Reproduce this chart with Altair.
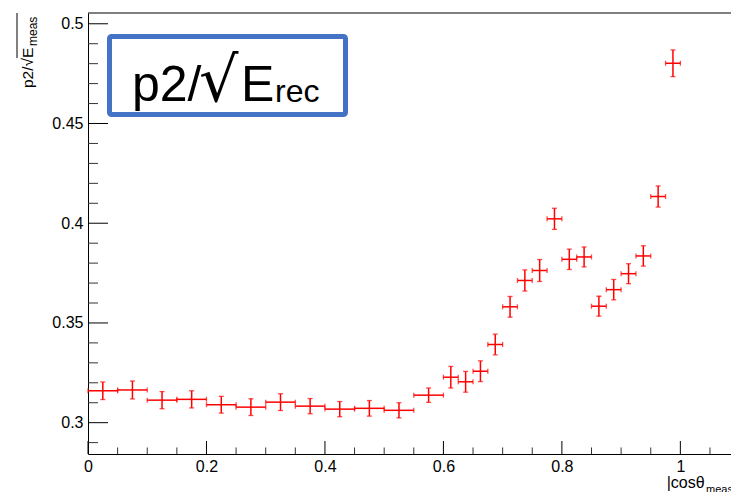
import altair as alt
import pandas as pd

# ---- data ----
x_center = [0.025, 0.075, 0.125, 0.175, 0.225, 0.275, 0.325, 0.375, 0.425, 0.475, 0.525, 0.575,
            0.6125, 0.6375, 0.6625, 0.6875, 0.7125, 0.7375, 0.7625, 0.7875, 0.8125, 0.8375,
            0.8625, 0.8875, 0.9125, 0.9375, 0.9625, 0.9875]
x_half = [0.025] * 12 + [0.0125] * 16
y_val = [0.3160, 0.3164, 0.3113, 0.3117, 0.3090, 0.3078, 0.3103, 0.3083, 0.3068, 0.3072, 0.3062, 0.3138,
         0.3228, 0.3205, 0.3258, 0.3392, 0.3581, 0.3713, 0.3763, 0.4022, 0.3819, 0.3831,
         0.3584, 0.3667, 0.3747, 0.3836, 0.4134, 0.4802]
y_err = [0.0044, 0.0045, 0.0043, 0.0043, 0.0042, 0.0042, 0.0042, 0.0038, 0.0038, 0.0039, 0.0038, 0.0036,
         0.0054, 0.0052, 0.0052, 0.0052, 0.0052, 0.0053, 0.0055, 0.0053, 0.0051, 0.0050,
         0.0050, 0.0051, 0.0050, 0.0051, 0.0053, 0.0067]

y_major = [0.30, 0.35, 0.40, 0.45, 0.50]
y_minor = [0.29, 0.31, 0.32, 0.33, 0.34, 0.36, 0.37, 0.38, 0.39, 0.41, 0.42, 0.43, 0.44,
           0.46, 0.47, 0.48, 0.49]
x_major = [0.0, 0.2, 0.4, 0.6, 0.8, 1.0]
x_minor = [0.05, 0.1, 0.15, 0.25, 0.3, 0.35, 0.45, 0.5, 0.55, 0.65, 0.7, 0.75, 0.85, 0.9, 0.95, 1.05]

W, H = 643, 441
L, T = 88, 13
RED = "#ff0000"
FONT = "Liberation Sans"

df = pd.DataFrame({"x": x_center, "y": y_val})
df["xlo"] = [c - h for c, h in zip(x_center, x_half)]
df["xhi"] = [c + h for c, h in zip(x_center, x_half)]
df["ylo"] = [v - e for v, e in zip(y_val, y_err)]
df["yhi"] = [v + e for v, e in zip(y_val, y_err)]

xs = alt.Scale(domain=[0, 1.0855], nice=False, zero=False)
ys = alt.Scale(domain=[0.2843, 0.5054], nice=False, zero=False)
xaxis = alt.Axis(values=x_major, format=".1~f", title=None, ticks=False, tickSize=0,
                 labelPadding=4, grid=False, labelFlush=False)
yaxis = alt.Axis(values=y_major, format=".2~f", title=None, ticks=False, tickSize=0,
                 labelPadding=5, grid=False, labelFlush=False)

def X(f):
    return alt.X(f, type="quantitative", scale=xs, axis=xaxis)

def Y(f):
    return alt.Y(f, type="quantitative", scale=ys, axis=yaxis)

base = alt.Chart(df)
hbar = base.mark_rule(color=RED, strokeWidth=1.5).encode(x=X("xlo"), x2="xhi", y=Y("y"))
vbar = base.mark_rule(color=RED, strokeWidth=1.5).encode(x=X("x"), y=Y("ylo"), y2="yhi")
cap_l = base.mark_tick(color=RED, orient="vertical", size=5, thickness=1.3).encode(x=X("xlo"), y=Y("y"))
cap_r = base.mark_tick(color=RED, orient="vertical", size=5, thickness=1.3).encode(x=X("xhi"), y=Y("y"))
cap_b = base.mark_tick(color=RED, orient="horizontal", size=5, thickness=1.3).encode(x=X("x"), y=Y("ylo"))
cap_t = base.mark_tick(color=RED, orient="horizontal", size=5, thickness=1.3).encode(x=X("x"), y=Y("yhi"))

ymaj = alt.Chart(pd.DataFrame({"v": y_major})).mark_rule(color="black", strokeWidth=1).encode(
    y=Y("v"), x=alt.value(0), x2=alt.value(20))
ymin = alt.Chart(pd.DataFrame({"v": y_minor})).mark_rule(color="#333333", strokeWidth=1).encode(
    y=Y("v"), x=alt.value(0), x2=alt.value(10))
xmaj = alt.Chart(pd.DataFrame({"v": x_major})).mark_rule(color="black", strokeWidth=1).encode(
    x=X("v"), y=alt.value(H), y2=alt.value(H - 13))
xmin = alt.Chart(pd.DataFrame({"v": x_minor})).mark_rule(color="#333333", strokeWidth=1).encode(
    x=X("v"), y=alt.value(H), y2=alt.value(H - 6.5))

one = pd.DataFrame({"a": [0]})
top = alt.Chart(one).mark_rule(color="black", strokeWidth=1).encode(
    x=alt.value(0), x2=alt.value(W), y=alt.value(0))

def label(text, x, y, size, font=FONT, **kw):
    return alt.Chart(one).mark_text(text=text, font=font, fontSize=size, baseline="alphabetic",
                                    color="black", **kw).encode(x=alt.value(x - L), y=alt.value(y - T))

# title box
box = alt.Chart(one).mark_rect(fill="white", stroke="#4472C4", strokeWidth=5, cornerRadius=2).encode(
    x=alt.value(109.5 - L), x2=alt.value(345.5 - L), y=alt.value(36.5 - T), y2=alt.value(114.5 - T))
box_a = label("p2/", 132, 101, 50, align="left")
box_b = label("√", 199, 101, 62, font="DejaVu Sans", align="left")
box_c = label("E", 241, 101, 50, align="left")
box_d = label("rec", 275, 102, 32, align="left")

# y-axis title (rotated)
yt1 = label("p2/√E", 32.7, 88, 15.5, angle=270, align="left")
yt2 = label("meas", 36.5, 46, 12, angle=270, align="left")
yt_bar = alt.Chart(one).mark_rule(color="black", strokeWidth=1).encode(
    x=alt.value(17 - L), y=alt.value(0), y2=alt.value(58 - T))

# x-axis title
xt1 = label("|cosθ", 666.7, 488, 16, align="left")
xt2 = label("meas", 706, 493, 11, align="left")

chart = alt.layer(
    ymin, ymaj, xmin, xmaj, top,
    hbar, vbar, cap_l, cap_r, cap_b, cap_t,
    box, box_a, box_b, box_c, box_d, yt1, yt2, yt_bar, xt1, xt2,
).properties(
    width=W, height=H,
    autosize=alt.AutoSizeParams(type="none"),
    padding={"left": L, "top": T, "right": 0, "bottom": 38},
    background="white",
).configure_view(strokeWidth=0).configure_axis(
    domainColor="black", domainWidth=1, labelFont=FONT, labelFontSize=16, labelColor="black",
)

chart.save("out.html", embed_options={"renderer": "svg", "actions": False})
